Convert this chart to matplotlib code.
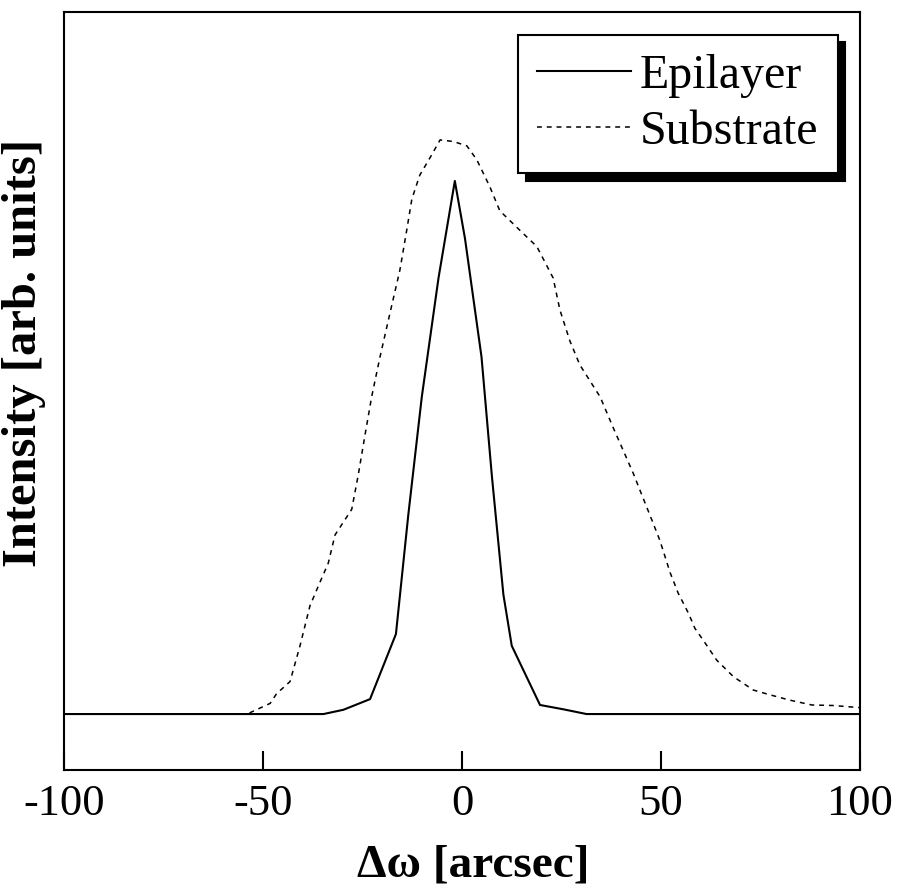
import matplotlib
matplotlib.use("Agg")
import matplotlib.pyplot as plt

# rocking curve profiles (normalised to epilayer peak)
epi_x = [-100, -34.8, -29.8, -23.1, -16.6, -13.5, -10.1, -5.9, -3.4, -1.8,
         0.75, 4.9, 7.5, 10.4, 12.5, 19.6, 25.4, 31.3, 100]
epi_y = [0, 0, 0.008, 0.028, 0.150, 0.373, 0.595, 0.818, 0.929, 1.0,
         0.892, 0.670, 0.447, 0.224, 0.128, 0.017, 0.009, 0, 0]

sub_x = [-100, -54, -50.8, -48.2, -46.6, -43.2, -40.7, -38.2, -35.7, -33.6,
         -31.9, -27.7, -26.1, -24.4, -22.7, -20.6, -17.7, -15.6, -13.9, -12.6,
         -10.6, -8.0, -5.5, -2.2, 1.2, 3.7, 7.0, 9.5, 14.6, 18.8,
         22.9, 24.6, 27.1, 29.6, 34.7, 38.0, 41.0, 43.0, 44.7, 47.7,
         49.7, 52.3, 54.3, 56.9, 58.5, 61.1, 64.0, 68.2, 73.2, 77.4,
         82.4, 87.9, 93.3, 100]
sub_y = [0, 0, 0.011, 0.020, 0.038, 0.061, 0.128, 0.203, 0.247, 0.283,
         0.336, 0.384, 0.447, 0.522, 0.595, 0.670, 0.765, 0.833, 0.907, 0.966,
         1.011, 1.044, 1.077, 1.074, 1.066, 1.040, 0.989, 0.944, 0.907, 0.877,
         0.818, 0.758, 0.700, 0.655, 0.595, 0.537, 0.486, 0.452, 0.420, 0.364,
         0.326, 0.265, 0.227, 0.189, 0.161, 0.133, 0.101, 0.070, 0.045, 0.036,
         0.026, 0.017, 0.016, 0.012]

x_ticks = [-100, -50, 0, 50, 100]

plt.rcParams["font.family"] = ["Liberation Serif", "DejaVu Serif"]

fig = plt.figure(figsize=(8.97, 8.86), dpi=100)
ax = fig.add_axes([0.0713, 0.1309, 0.8875, 0.8556])

ax.plot(epi_x, epi_y, color="black", lw=1.5, label="Epilayer")
ax.plot(sub_x, sub_y, color="black", lw=1.1, linestyle=(0, (3.2, 3.2)),
        label="Substrate")

ax.set_xlim(-100, 100)
ax.set_ylim(-0.105, 1.317)
ax.set_xticks(x_ticks)
ax.set_xticklabels([str(t) for t in x_ticks])
ax.set_yticks([])
ax.tick_params(axis="x", direction="in", length=13.5, width=1.5,
               labelsize=32, pad=10)
for s in ax.spines.values():
    s.set_linewidth(1.5)

ax.set_xlabel("Δω [arcsec]", fontsize=34, fontweight="bold")
ax.xaxis.set_label_coords(0.514, -0.098)
ax.set_ylabel("Intensity [arb. units]", fontsize=35, fontweight="bold")
ax.yaxis.set_label_coords(-0.023, 0.55)

leg = ax.legend(loc="upper right", bbox_to_anchor=(0.972, 0.97),
                fontsize=34.5, frameon=True, fancybox=False,
                handlelength=1.95, handletextpad=0.2, borderpad=0.4,
                labelspacing=0.25, borderaxespad=0,
                shadow={"ox": 5.5, "oy": -5.5, "color": "black", "alpha": 1})
leg.get_frame().set_edgecolor("black")
leg.get_frame().set_linewidth(1.5)
leg.get_frame().set_alpha(1)

fig.savefig("out.png", dpi=100)
